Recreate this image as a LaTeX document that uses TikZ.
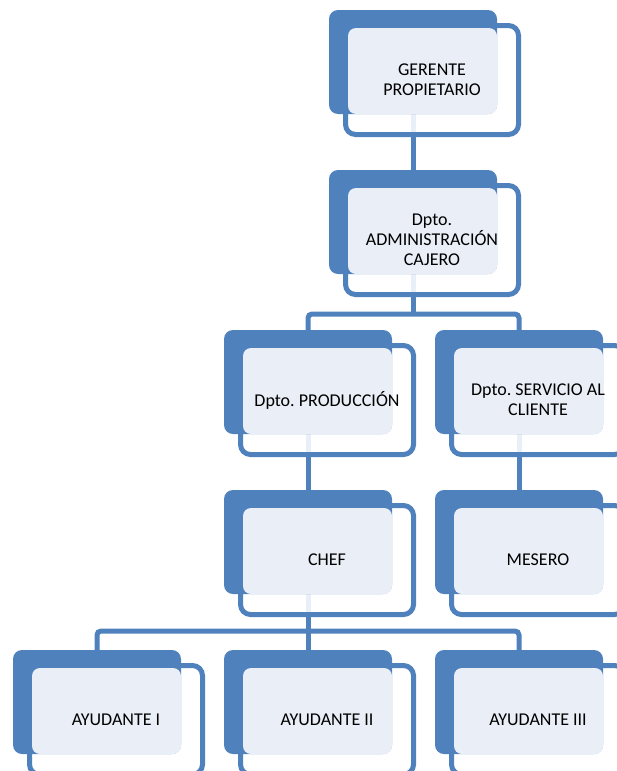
\documentclass[tikz,border=0pt]{standalone}
\usepackage{fontspec}
\setmainfont{Carlito}
\frenchspacing

\definecolor{unitblue}{HTML}{4F81BD}
\definecolor{unitpale}{HTML}{EAEFF7}

\pgfdeclarelayer{links}
\pgfsetlayers{links,main}

\tikzset{
  back/.style={fill=unitblue, rounded corners=9pt, minimum width=168pt,
    minimum height=104pt, inner sep=0pt, outer sep=0pt, anchor=north west},
  frame/.style={draw=unitblue, line width=5pt, fill=white, fill opacity=0.88,
    rounded corners=10pt},
  face/.style={fill=unitpale, rounded corners=8pt},
  caption/.style={font=\fontsize{18}{20}\selectfont, align=center, text=black,
    inner sep=0pt},
  conn/.style={draw=unitblue, line width=5pt, rounded corners=4pt}
}

% one chart unit: outlined frame, solid block, pale face and its caption
\newcommand\orgunit[4]{%
  \path[frame] (#2+16.5,#3+15.5) rectangle (#2+189.5,#3+124.5);
  \node[back] (#1) at (#2,#3) {};
  \path[face] (#2+19,#3+18) rectangle (#2+168,#3+104);
  \node[caption] (#1-t) at (#2+103,#3+70) {#4};
}

\begin{document}
\begin{tikzpicture}[x=1pt,y=-1pt]
  \path[use as bounding box] (0,0) rectangle (617,771);
  \clip (0,0) rectangle (617,771);

  \orgunit{g}{329}{10}{GERENTE\\PROPIETARIO}
  \orgunit{a}{329}{170}{Dpto.\\ADMINISTRACIÓN\\CAJERO}
  \orgunit{p}{224}{330}{Dpto. PRODUCCIÓN}
  \orgunit{s}{435}{330}{Dpto. SERVICIO AL\\CLIENTE}
  \orgunit{c}{224}{490}{CHEF}
  \orgunit{m}{435}{490}{MESERO}
  \orgunit{y1}{13}{650}{AYUDANTE I}
  \orgunit{y2}{224}{650}{AYUDANTE II}
  \orgunit{y3}{435}{650}{AYUDANTE III}

  \coordinate (b1) at (413,314);
  \coordinate (b2) at (308,631);

  \begin{pgfonlayer}{links}
    \draw[conn] (g.center) -- (a.north);
    \draw[conn] (a.center) -- (b1);
    \draw[conn] (p.north) |- (b1) -| (s.north);
    \draw[conn] (p.center) -- (c.north);
    \draw[conn] (s.center) -- (m.north);
    \draw[conn] (c.center) -- (b2);
    \draw[conn] (y1.north) |- (b2) -| (y3.north);
    \draw[conn] (b2) -- (y2.north);
  \end{pgfonlayer}
\end{tikzpicture}
\end{document}
